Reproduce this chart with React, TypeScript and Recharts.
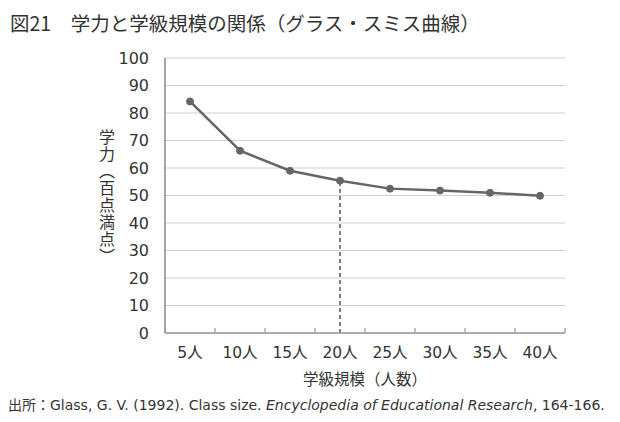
import { LineChart, Line, XAxis, YAxis, CartesianGrid, ReferenceLine } from "recharts";

const classSizes = ["5人", "10人", "15人", "20人", "25人", "30人", "35人", "40人"];
const achievement = [84.2, 66.3, 59.0, 55.4, 52.5, 51.8, 51.0, 49.9];
const yTicks = [0, 10, 20, 30, 40, 50, 60, 70, 80, 90, 100];

const data = classSizes.map((size, i) => ({ size, score: achievement[i] }));

const font = '"Noto Sans CJK JP", "Noto Sans", sans-serif';
const latin = '"DejaVu Sans", "Noto Sans CJK JP", sans-serif';
const TICK_GAP = 14;

// category label plus a short upward tick at the left edge of each band (and the right edge of the last)
function BandTick(props: any) {
  const { x, y, payload, index, visibleTicksCount } = props;
  const half = payload.offset ?? 25;
  const axisY = y - TICK_GAP;
  return (
    <g>
      <line x1={x - half} x2={x - half} y1={axisY} y2={axisY - 5} stroke="#999" strokeWidth={1.2} />
      {index === visibleTicksCount - 1 && (
        <line x1={x + half} x2={x + half} y1={axisY} y2={axisY - 5} stroke="#999" strokeWidth={1.2} />
      )}
      <text x={x} y={y} dy="0.71em" textAnchor="middle" fill="#333" fontSize={15.5} fontFamily={latin}>
        {payload.value}
      </text>
    </g>
  );
}

export default function App() {
  return (
    <div style={{ position: "absolute", left: 0, top: 0, width: 620, height: 422, background: "#fff", fontFamily: font, color: "#333" }}>
      <div style={{ position: "absolute", left: 10, top: 9, fontSize: 19.5, lineHeight: "28px", whiteSpace: "nowrap" }}>
        図21　学力と学級規模の関係（グラス・スミス曲線）
      </div>
      <LineChart width={620} height={422} data={data} margin={{ top: 58, right: 55, bottom: 59, left: 105 }}>
        <CartesianGrid vertical={false} stroke="#cfcfcf" strokeWidth={1.2} />
        <XAxis
          dataKey="size"
          scale="band"
          height={30}
          axisLine={{ stroke: "#999", strokeWidth: 1.5 }}
          tickLine={false}
          tickSize={0}
          tickMargin={TICK_GAP}
          tick={<BandTick />}
          interval={0}
        />
        <YAxis
          domain={[0, 100]}
          ticks={yTicks}
          width={60}
          axisLine={{ stroke: "#888", strokeWidth: 1.5 }}
          tickLine={false}
          tickMargin={10}
          tick={{ fill: "#333", fontSize: 16, fontFamily: latin }}
        />
        <ReferenceLine
          segment={[{ x: classSizes[3], y: 0 }, { x: classSizes[3], y: achievement[3] }]}
          stroke="#555"
          strokeWidth={1.5}
          strokeDasharray="4 3"
        />
        <Line
          type="linear"
          dataKey="score"
          stroke="#666"
          strokeWidth={2.5}
          dot={{ r: 3.5, fill: "#666", stroke: "#666", strokeWidth: 1 }}
          isAnimationActive={false}
        />
      </LineChart>
      <div
        style={{
          position: "absolute",
          left: 98,
          top: 197,
          transform: "translateY(-50%)",
          writingMode: "vertical-rl",
          textOrientation: "mixed",
          textSpacingTrim: "space-all",
          fontFamily: '"Noto Sans CJK JP"',
          fontSize: 16,
          letterSpacing: 1,
          lineHeight: "18px",
          whiteSpace: "nowrap",
        } as any}
      >
        学力（百点満点）
      </div>
      <div style={{ position: "absolute", left: 165, width: 400, top: 367, textAlign: "center", fontSize: 15.5, lineHeight: "22px" }}>
        学級規模（人数）
      </div>
      <div style={{ position: "absolute", left: 8, top: 395, fontFamily: latin, fontSize: 14, lineHeight: "20px", whiteSpace: "nowrap" }}>
        出所：Glass, G. V. (1992). Class size. <i>Encyclopedia of Educational Research</i>, 164-166.
      </div>
    </div>
  );
}
